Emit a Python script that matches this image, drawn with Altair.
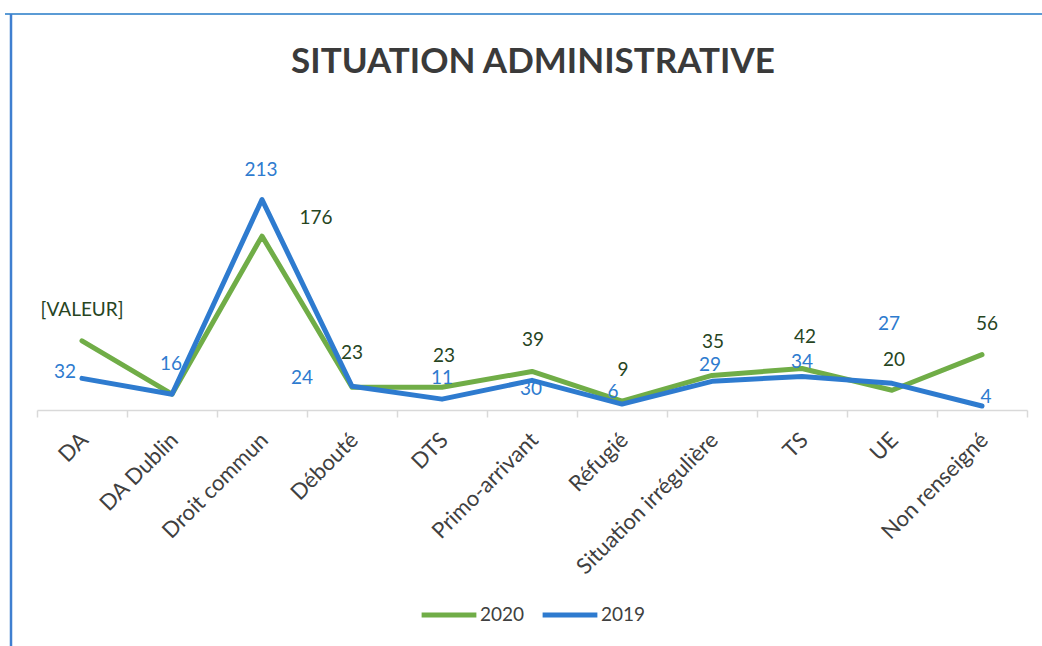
import altair as alt
import pandas as pd

# ---- data ----
categories = ["DA", "DA Dublin", "Droit commun", "Débouté", "DTS", "Primo-arrivant",
              "Réfugié", "Situation irrégulière", "TS", "UE", "Non renseigné"]
values_2020 = [70, 16, 176, 23, 23, 39, 9, 35, 42, 20, 56]
values_2019 = [32, 16, 213, 24, 11, 30, 6, 29, 34, 27, 4]
series_names = ["2020", "2019"]
# text shown on data labels (None = no label shown)
labels_2020 = ["[VALEUR]", None, "176", "23", "23", "39", "9", "35", "42", "20", "56"]
labels_2019 = ["32", "16", "213", "24", "11", "30", "6", "29", "34", "27", "4"]
title_text = "SITUATION ADMINISTRATIVE"

# ---- label placement (pixel offsets from each point), kept apart from data ----
offsets_2020 = [(0, -31), None, (54, -18), (0, -34), (2, -31), (1, -31), (1, -31),
                (1, -33), (3, -32), (2, -30), (5, -31)]
offsets_2019 = [(-17, -6), (-1, -30), (-1, -30), (-50, -8), (0, -21), (-1, 9),
                (-9, -12), (-2, -16), (0, -14), (-3, -59), (4, -9)]

GREEN = "#70AD47"
BLUE = "#2E7BCF"
GREEN_TXT = "#27451F"
FONT = "Lato"

rows = []
for name, vals in zip(series_names, [values_2020, values_2019]):
    for c, v in zip(categories, vals):
        rows.append({"cat": c, "serie": name, "val": v})
lines_df = pd.DataFrame(rows)

x_enc = alt.X("cat:N", sort=categories, title=None,
              scale=alt.Scale(type="band", paddingInner=0, paddingOuter=0),
              axis=alt.Axis(labelAngle=-45, labelFont=FONT, labelFontSize=22,
                            labelColor="#404040", domainColor="#D9D9D9", domainWidth=1.5,
                            tickColor="#D9D9D9", tickSize=7, tickWidth=1.5, tickBand="extent",
                            labelPadding=12, labelOffset=-5, labelLimit=400, grid=False))
y_scale = alt.Scale(domain=[0, 250], nice=False)
y_enc = alt.Y("val:Q", scale=y_scale, axis=None)

lines = alt.Chart(lines_df).mark_line(strokeWidth=5, strokeCap="round", strokeJoin="round").encode(
    x=x_enc, y=y_enc,
    color=alt.Color("serie:N", sort=series_names,
                    scale=alt.Scale(domain=series_names, range=[GREEN, BLUE]),
                    legend=alt.Legend(title=None, orient="none", direction="horizontal",
                                      legendX=382, legendY=422, symbolType="stroke",
                                      symbolSize=3000, symbolStrokeWidth=5,
                                      labelFont=FONT, labelFontSize=19, labelColor="#404040",
                                      columnPadding=7, labelOffset=1, padding=0)),
)

label_layers = []
for name, color, labs, offs in [("2020", GREEN_TXT, labels_2020, offsets_2020),
                                ("2019", BLUE, labels_2019, offsets_2019)]:
    for c, t, o in zip(categories, labs, offs):
        if t is None:
            continue
        layer = alt.Chart(lines_df).transform_filter(
            (alt.datum.serie == name) & (alt.datum.cat == c)
        ).mark_text(
            font=FONT, fontSize=19, color=color, align="center", baseline="middle",
            dx=o[0], dy=o[1], text=t
        ).encode(
            x=alt.X("cat:N", sort=categories),
            y=alt.Y("val:Q", scale=y_scale),
        )
        label_layers.append(layer)

one = alt.Data(values=[{}])
title_mark = alt.Chart(one).mark_text(
    text=title_text, font=FONT, fontSize=35, fontWeight="bold", color="#3A3A3A",
    align="center", baseline="alphabetic"
).encode(x=alt.value(496), y=alt.value(-90))

border_top = alt.Chart(one).mark_rule(color="#5B9BD5", strokeWidth=2).encode(
    x=alt.value(-32), x2=alt.value(1005), y=alt.value(-149))
border_left = alt.Chart(one).mark_rule(color="#3F7FD0", strokeWidth=2.5).encode(
    x=alt.value(-26), y=alt.value(-149), y2=alt.value(483))

chart = alt.layer(
    border_top, border_left, title_mark, lines, *label_layers
).properties(
    width=990, height=247,
    background="white",
    autosize=alt.AutoSizeParams(type="none"),
    padding={"left": 37, "top": 163, "right": 15, "bottom": 236},
).configure_view(strokeOpacity=0, strokeWidth=0)

chart.save("out.html", embed_options={"renderer": "svg", "actions": False})
